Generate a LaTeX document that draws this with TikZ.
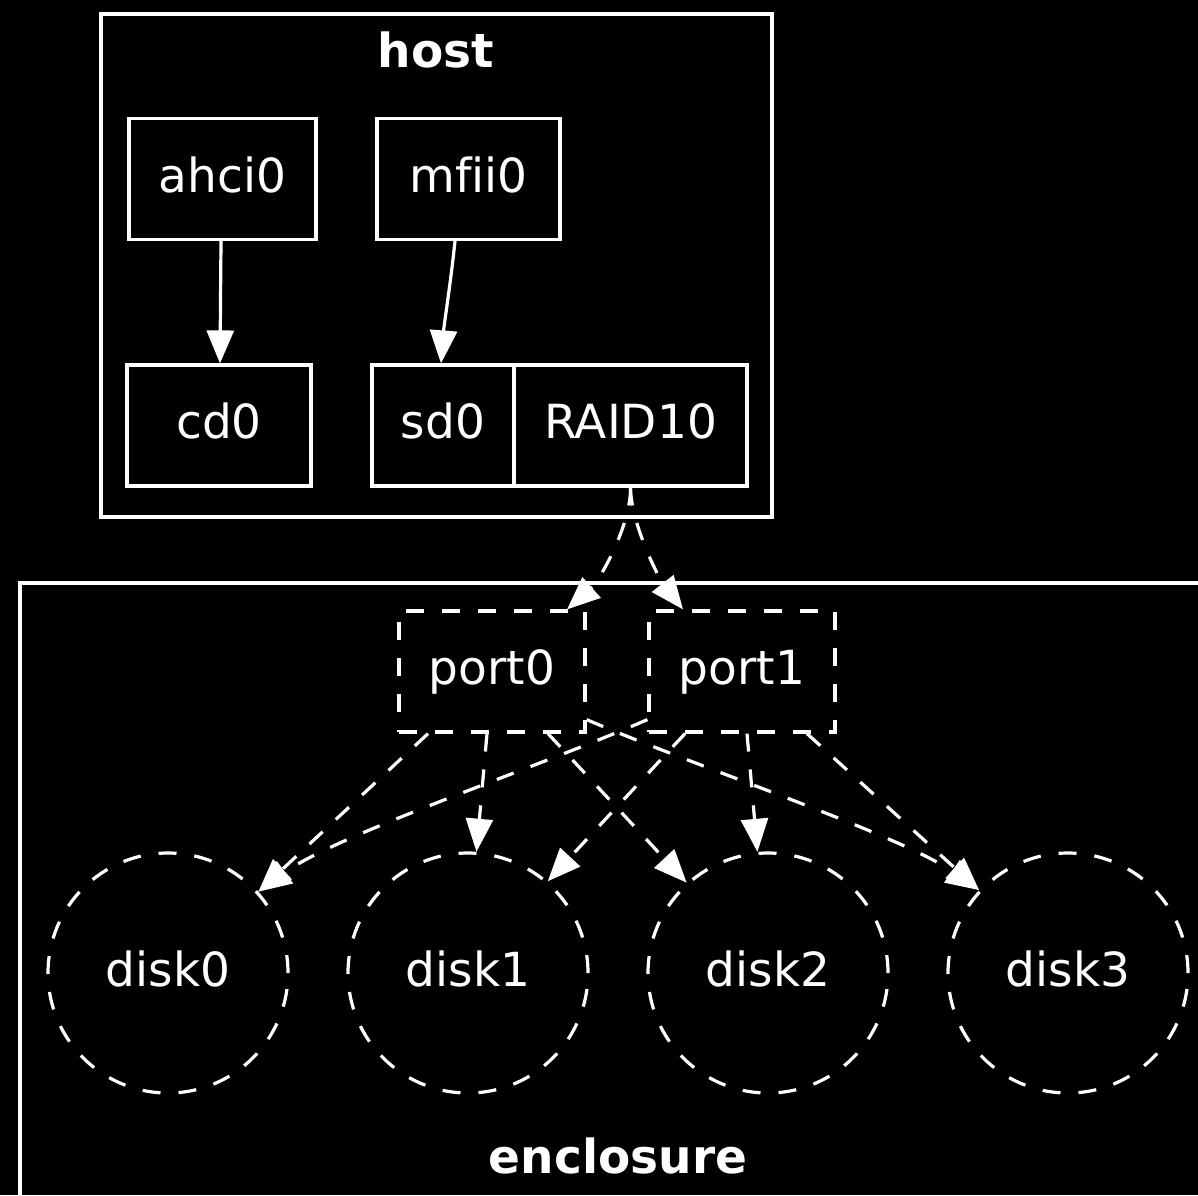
\documentclass[tikz,border=0pt]{standalone}
\usepackage{fontspec}
\setmainfont[Ligatures=NoCommon]{DejaVu Sans}
\usetikzlibrary{arrows.meta,calc}
\begin{document}
\begin{tikzpicture}[x=1pt,y=-1pt,
  every node/.style={font=\fontsize{47}{56}\selectfont, text=white, inner sep=0pt, text height=36pt, text depth=10pt},
  box/.style={draw=white, line width=3.2pt, rectangle, minimum height=121pt},
  dbox/.style={box, dash pattern=on 18pt off 18pt},
  disk/.style={draw=white, line width=3.2pt, circle, minimum size=240pt, dash pattern=on 18pt off 18pt},
  ed/.style={draw=white, line width=3.2pt, -{Triangle[length=33pt,width=27pt]}},
  ded/.style={ed, dash pattern=on 18pt off 18pt},
  clabel/.style={font=\bfseries\fontsize{47}{56}\selectfont, text=white, anchor=base},
  cluster/.style={draw=white, line width=3.2pt}
]
\useasboundingbox (0,0) rectangle (1198,1195);
\fill[black] (0,0) rectangle (1198,1195);
\begin{scope}
\clip (0,0) rectangle (1198,1195);
\draw[cluster] (101,14) rectangle (772,517);
\draw[cluster] (20,583) rectangle (1217,1215);
\end{scope}
\node[clabel] (hostlabel) at (436,67) {host};
\node[clabel] (enclabel) at (618,1173) {enclosure};

\node[box, minimum width=187pt] (ahci0) at (222.5,179) {ahci0};
\node[box, minimum width=183pt] (mfii0) at (468.5,179) {mfii0};
\node[box, minimum width=184pt] (cd0) at (219,425.5) {cd0};
\node[box, minimum width=142pt] (sd0) at (443,425.5) {sd0};
\node[box, minimum width=233pt] (raid) at (630.5,425.5) {RAID10};
\node[dbox, minimum width=186pt] (port0) at (492,671.5) {port0};
\node[dbox, minimum width=186pt] (port1) at (742,671.5) {port1};
\node[disk] (disk0) at (168,973) {disk0};
\node[disk] (disk1) at (468,973) {disk1};
\node[disk] (disk2) at (768,973) {disk2};
\node[disk] (disk3) at (1068,973) {disk3};

\draw[ed] ($(ahci0.south)+(-1.5,0)$) -- ($(cd0.north)+(1,0)$);
\draw[ed] ($(mfii0.south)+(-13.5,0)$) .. controls (451,280) and (444,325) .. ($(sd0.north)+(-2,0)$);

\draw[ded] (raid.south) .. controls (631,525) and (600,580) .. ($(port0.north)+(75,0)$);
\draw[ded] (raid.south) .. controls (631,525) and (660,580) .. ($(port1.north)+(-59,0)$);

\draw[ded] ($(port0.south)+(-64,0)$) -- (disk0.42);
\draw[ded] ($(port0.south)+(-5,0)$) -- (disk1.86);
\draw[ded] ($(port0.south)+(56,0)$) -- (disk2.132);
\draw[ded] ($(port0.south east)+(0,-14)$) .. controls (700,768) and (900,835) .. (disk3.137);

\draw[ded] ($(port1.south west)+(0,-14)$) .. controls (536,768) and (336,835) .. (disk0.42);
\draw[ded] ($(port1.south)+(-57,0)$) -- (disk1.49);
\draw[ded] ($(port1.south)+(5,0)$) -- (disk2.95);
\draw[ded] ($(port1.south)+(65,0)$) -- (disk3.137);
\end{tikzpicture}
\end{document}
